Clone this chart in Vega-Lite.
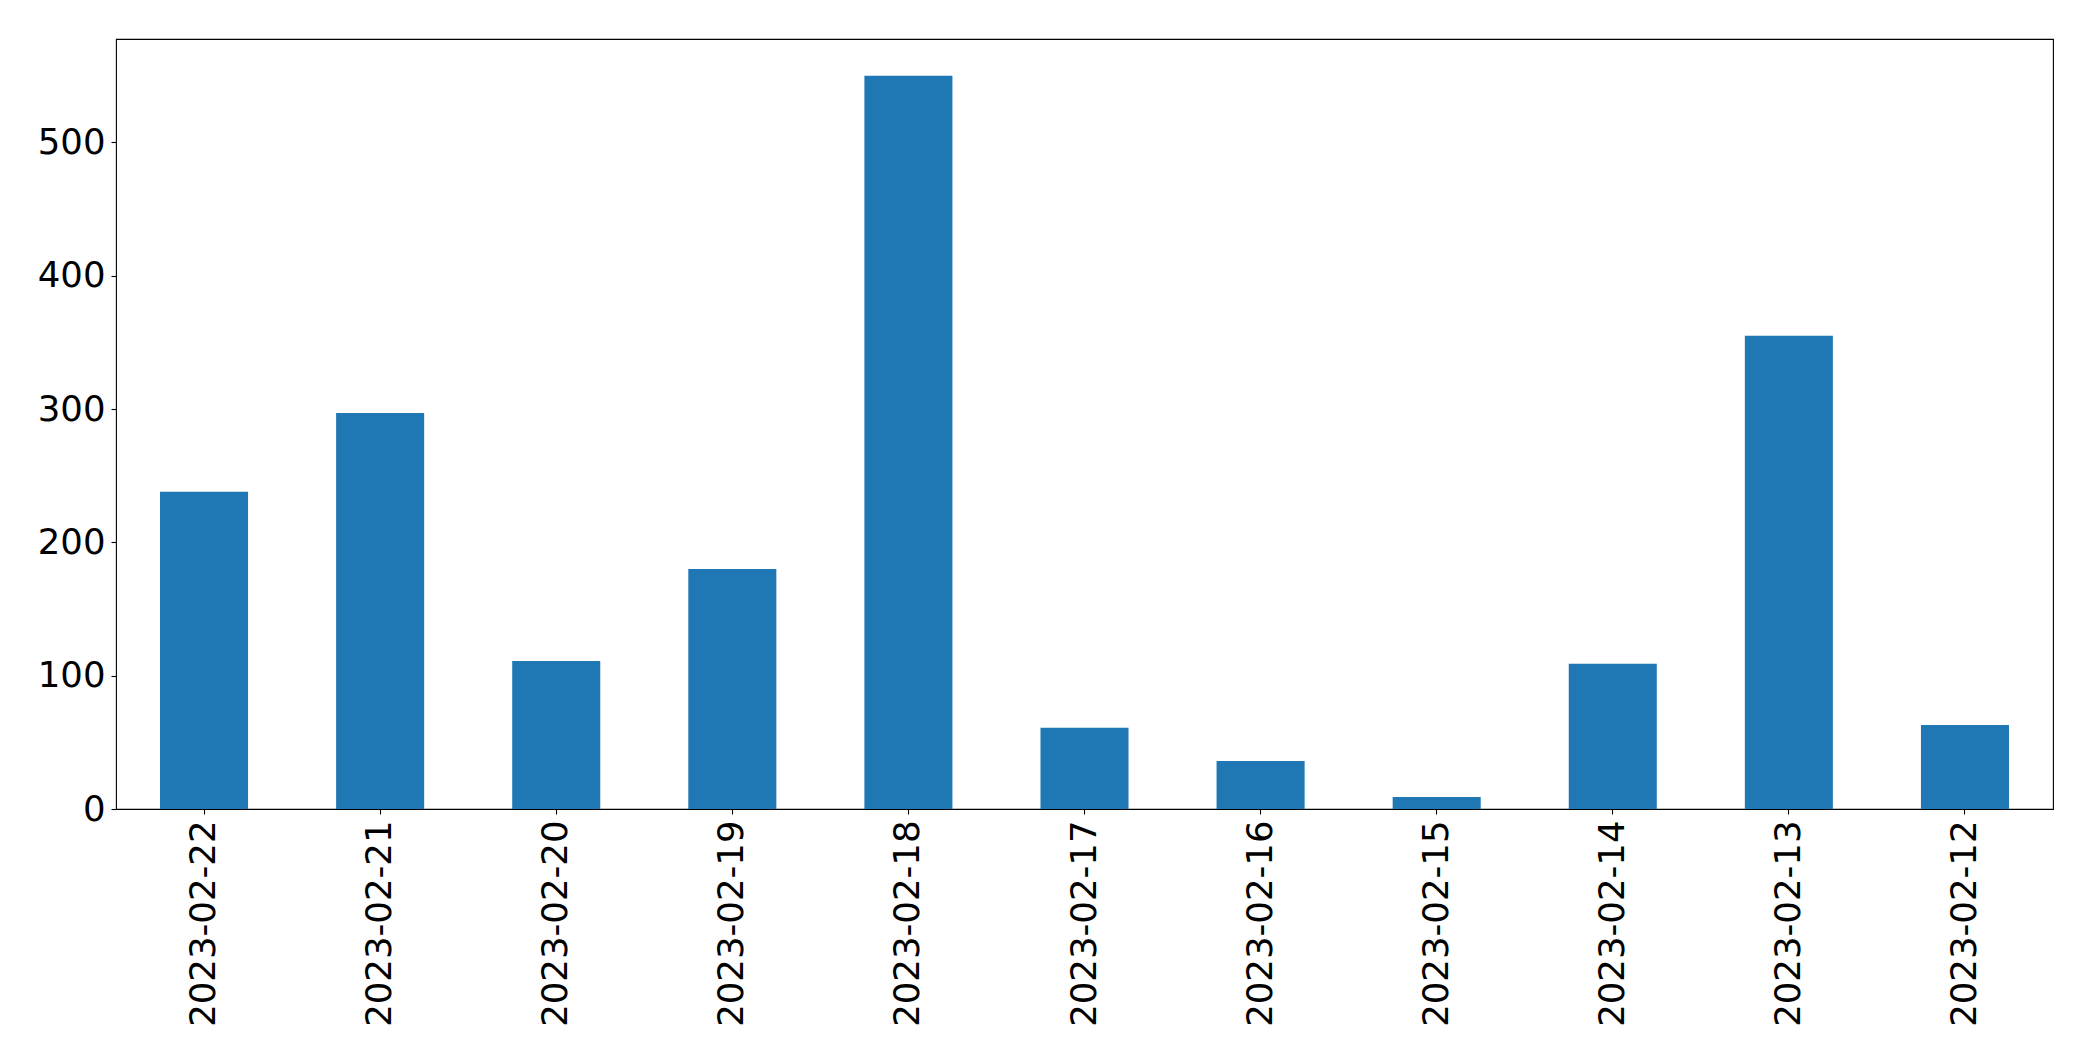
{
  "$schema": "https://vega.github.io/schema/vega-lite/v6.json",
  "autosize": {"type": "none"},
  "width": 1937,
  "height": 770,
  "padding": {"left": 116, "top": 39, "right": 40, "bottom": 252},
  "background": "white",
  "data": {
    "values": [
      {"date": "2023-02-22", "count": 238},
      {"date": "2023-02-21", "count": 297},
      {"date": "2023-02-20", "count": 111},
      {"date": "2023-02-19", "count": 180},
      {"date": "2023-02-18", "count": 550},
      {"date": "2023-02-17", "count": 61},
      {"date": "2023-02-16", "count": 36},
      {"date": "2023-02-15", "count": 9},
      {"date": "2023-02-14", "count": 109},
      {"date": "2023-02-13", "count": 355},
      {"date": "2023-02-12", "count": 63}
    ]
  },
  "mark": {"type": "bar", "color": "#1f77b4"},
  "encoding": {
    "x": {
      "field": "date",
      "type": "nominal",
      "sort": null,
      "scale": {"paddingInner": 0.5, "paddingOuter": 0.25},
      "axis": {
        "title": null,
        "labelAngle": -90,
        "labelFont": "DejaVu Sans",
        "labelFontSize": 35.5,
        "labelColor": "black",
        "labelPadding": 6,
        "labelLimit": 0,
        "tickSize": 5,
        "tickWidth": 1.1,
        "tickColor": "black",
        "domain": false,
        "grid": false
      }
    },
    "y": {
      "field": "count",
      "type": "quantitative",
      "scale": {"domain": [0, 577.5], "nice": false, "zero": true},
      "axis": {
        "title": null,
        "values": [0, 100, 200, 300, 400, 500],
        "labelFont": "DejaVu Sans",
        "labelFontSize": 35.5,
        "labelColor": "black",
        "labelPadding": 6,
        "labelLimit": 0,
        "tickSize": 5,
        "tickWidth": 1.1,
        "tickColor": "black",
        "domain": false,
        "grid": false
      }
    }
  },
  "config": {
    "view": {"stroke": "black", "strokeWidth": 1.1}
  }
}
